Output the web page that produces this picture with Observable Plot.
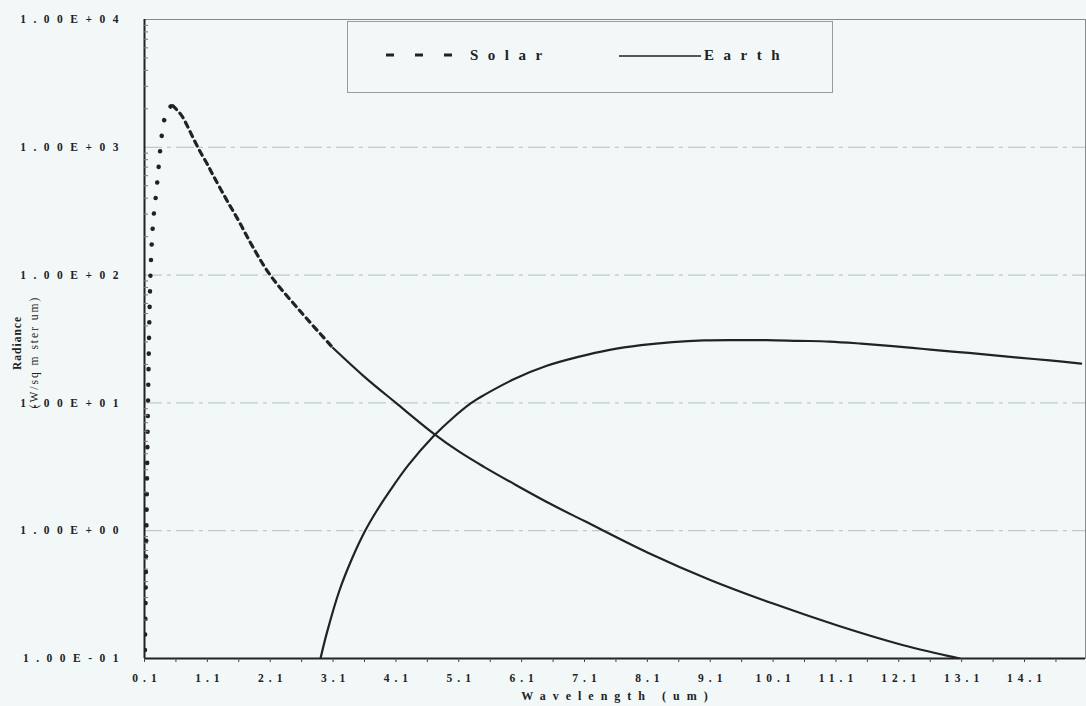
<!DOCTYPE html>
<html>
<head>
<meta charset="utf-8">
<script src="https://cdn.jsdelivr.net/npm/d3@7"></script>
<script src="https://cdn.jsdelivr.net/npm/@observablehq/plot@0.6"></script>
<style>
html, body { margin: 0; padding: 0; background: #f2f8f8; }
#wrap { position: relative; width: 1086px; height: 706px; font-family: "Liberation Serif", "DejaVu Serif", serif; color: #222; }
#wrap svg text { letter-spacing: 5px; }
#wrap svg g.ylab text { letter-spacing: 7.5px; }
.legend { position: absolute; left: 347px; top: 21px; width: 486px; height: 72px; box-sizing: border-box; border: 1px solid #9a9a9a; }
.legitem { position: absolute; top: 0; height: 66px; display: flex; align-items: center; font-weight: bold; font-size: 15px; letter-spacing: 9.5px; }
.ytitle { position: absolute; transform: translate(-50%, -50%) rotate(-90deg); white-space: nowrap; font-size: 11.5px; }
.xtitle { position: absolute; left: 618px; top: 696px; transform: translate(-50%, -50%); white-space: nowrap; font-weight: bold; font-size: 12px; letter-spacing: 7px; }
</style>
</head>
<body>
<div id="wrap"></div>
<script>
// ---- data ----
const seriesNames = ["Solar", "Earth"];
const solarWl  = [0.1, 0.2, 0.3, 0.4, 0.5, 0.55, 0.6, 0.7, 0.8, 0.9, 1.0, 1.1, 1.2, 1.4, 1.6, 1.8, 2.1, 2.6, 3.1, 3.6, 4.1, 4.7, 5.1, 5.5, 6.0, 6.6, 7.1, 8.1, 9.1, 10.1, 11.1, 12.1, 13.1, 14.1, 15.0];
const solarRad = [0.05, 120, 514, 1513, 2053, 2120, 2000, 1746, 1407, 1114, 898, 736, 593, 393, 265, 174, 100, 50.7, 26.9, 16.0, 10.0, 5.75, 4.17, 3.16, 2.29, 1.58, 1.19, 0.676, 0.412, 0.269, 0.183, 0.130, 0.099, 0.077, 0.062];
const earthWl  = [2.8, 2.9, 3.0, 3.2, 3.4, 3.6, 3.8, 4.0, 4.3, 4.7, 5.0, 5.3, 5.5, 6.0, 6.5, 7.0, 7.5, 8.0, 8.5, 9.0, 9.5, 10.0, 10.5, 11.0, 11.5, 12.0, 12.5, 13.0, 13.5, 14.0, 14.5, 15.0];
const earthRad = [0.059, 0.1, 0.158, 0.339, 0.603, 0.977, 1.445, 2.04, 3.27, 5.5, 7.59, 10.0, 11.5, 15.5, 19.5, 22.9, 26.0, 28.3, 29.9, 30.8, 31.0, 31.0, 30.6, 30.2, 29.1, 27.8, 26.4, 25.1, 23.9, 22.6, 21.5, 20.3];
const xTickLabels = [0.1, 1.1, 2.1, 3.1, 4.1, 5.1, 6.1, 7.1, 8.1, 9.1, 10.1, 11.1, 12.1, 13.1, 14.1];
const xMinorTicks = d3.range(0.1, 15.06, 0.5);
const yTickValues = [0.1, 1, 10, 100, 1000, 10000];
const yGridValues = [1, 10, 100, 1000];
const yMinorTicks = [0.1, 1, 10, 100, 1000].flatMap(b => [2,3,4,5,6,7,8,9].map(k => b * k));
const xTitle = "Wavelength (um)";
const yTitle1 = "Radiance";
const yTitle2 = "(W/sq m ster um)";

const solar = solarWl.map((w, i) => ({w, r: solarRad[i]}));
const earth = earthWl.map((w, i) => ({w, r: earthRad[i]}));

const fmtE = d => {
  const e = Math.round(Math.log10(d));
  return "1.00E" + (e < 0 ? "-" : "+") + String(Math.abs(e)).padStart(2, "0");
};

const chart = Plot.plot({
  width: 1086,
  height: 706,
  marginLeft: 144,
  marginRight: 1,
  marginTop: 19,
  marginBottom: 48,
  style: {background: "transparent", fontFamily: "'Liberation Serif', serif", fontWeight: "bold", color: "#222"},
  x: {domain: [0.1, 15.07]},
  y: {type: "log", domain: [0.1, 10000]},
  marks: [
    Plot.ruleY(yGridValues, {stroke: "#8f9a9a", strokeWidth: 1, strokeDasharray: "18,5,4,5", strokeOpacity: 0.6}),
    Plot.frame({stroke: "#8a8a8a", strokeWidth: 1}),
    // Solar: dotted rise, dashed fall, then (as printed) solid
    Plot.line(solar, {filter: d => d.w <= 0.55, x: "w", y: "r", curve: "monotone-x", clip: true,
      stroke: "#222", strokeWidth: 4.5, strokeDasharray: "0.1,15.5", strokeLinecap: "round"}),
    Plot.line(solar, {filter: d => d.w >= 0.55 && d.w <= 3.1, x: "w", y: "r", curve: "catmull-rom", clip: true,
      stroke: "#222", strokeWidth: 3.2, strokeDasharray: "5.5,5"}),
    Plot.line(solar, {filter: d => d.w >= 3.1, x: "w", y: "r", curve: "catmull-rom", clip: true,
      stroke: "#222", strokeWidth: 2.2}),
    Plot.line(earth, {x: "w", y: "r", curve: "catmull-rom", clip: true, stroke: "#222", strokeWidth: 2.2}),
    Plot.ruleX([0.1], {stroke: "#222", strokeWidth: 2}),
    Plot.ruleY([0.1], {stroke: "#222", strokeWidth: 2}),
    Plot.axisX({ticks: xTickLabels, tickFormat: d => d.toFixed(1), tickSize: 0, tickPadding: 15, fontSize: 11.5, dx: 2.5, label: null}),
    Plot.axisX({ticks: xMinorTicks, text: null, tickSize: 4, stroke: "#444", label: null}),
    Plot.axisY({ticks: yTickValues, tickFormat: fmtE, tickSize: 0, tickPadding: 18.5, fontSize: 11.5, label: null}),
    Plot.axisY({ticks: yMinorTicks, text: null, tickSize: -4, stroke: "#777", label: null})
  ]
});

const wrap = document.getElementById("wrap");
wrap.appendChild(chart);
chart.querySelectorAll("g[aria-label='y-axis tick label']").forEach(g => g.classList.add("ylab"));

// legend (HTML overlay)
const legend = document.createElement("div");
legend.className = "legend";
legend.innerHTML = `
  <div class="legitem" style="left:38px">
    <svg width="70" height="8" style="margin-right:14px"><line x1="0" y1="4" x2="70" y2="4" stroke="#222" stroke-width="3" stroke-dasharray="8,21"/></svg>${seriesNames[0]}
  </div>
  <div class="legitem" style="left:271px">
    <svg width="82" height="8" style="margin-right:3px"><line x1="0" y1="5" x2="82" y2="5" stroke="#222" stroke-width="1.6"/></svg>${seriesNames[1]}
  </div>`;
wrap.appendChild(legend);

const yt1 = document.createElement("div");
yt1.className = "ytitle";
yt1.style.left = "17px"; yt1.style.top = "343px"; yt1.style.fontWeight = "bold"; yt1.style.letterSpacing = "1px";
yt1.textContent = yTitle1;
wrap.appendChild(yt1);

const yt2 = document.createElement("div");
yt2.className = "ytitle";
yt2.style.left = "34px"; yt2.style.top = "352px"; yt2.style.letterSpacing = "2px";
yt2.textContent = yTitle2;
wrap.appendChild(yt2);

const xt = document.createElement("div");
xt.className = "xtitle";
xt.textContent = xTitle;
wrap.appendChild(xt);
</script>
</body>
</html>
